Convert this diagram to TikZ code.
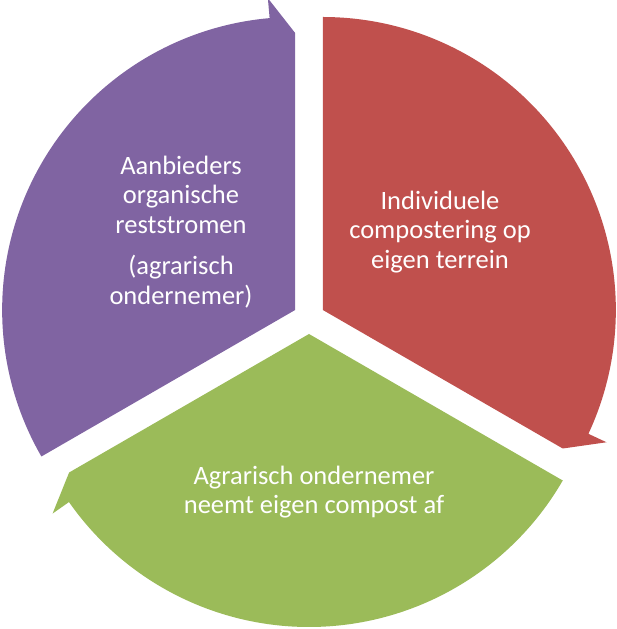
\documentclass[tikz,border=0pt]{standalone}
\usepackage{fontspec}
\setmainfont{Carlito}
\usetikzlibrary{calc}
\definecolor{segred}{HTML}{C0504D}
\definecolor{seggreen}{HTML}{9BBB59}
\definecolor{segpurple}{HTML}{8064A2}
\begin{document}
\begin{tikzpicture}[x=1pt,y=1pt]

\tikzstyle{segment}=[draw=none]
\tikzstyle{phase}=[text=white, align=center, inner sep=0pt, font=\fontsize{26.5}{29.5}\selectfont]

\useasboundingbox (0,0) rectangle (617,629);

\coordinate (mid) at (309,311);
\coordinate (Cp) at ($(mid)+(150:16)$);
\coordinate (Cr) at ($(mid)+(30:16)$);
\coordinate (Cg) at ($(mid)+(270:16)$);

% purple: 210 -> 90
\fill[segment, fill=segpurple] (Cp) -- ($(Cp)+(210:293)$) arc[start angle=210, end angle=95, radius=293]
    -- ($(Cp)+(95:313)$) -- ($(Cp)+(90:277)$) -- cycle;
% red: 90 -> -30
\fill[segment, fill=segred] (Cr) -- ($(Cr)+(90:293)$) arc[start angle=90, end angle=-25, radius=293]
    -- ($(Cr)+(-25:313)$) -- ($(Cr)+(-30:277)$) -- cycle;
% green: -30 -> -150
\fill[segment, fill=seggreen] (Cg) -- ($(Cg)+(-30:293)$) arc[start angle=-30, end angle=-145, radius=293]
    -- ($(Cg)+(-145:313)$) -- ($(Cg)+(-150:277)$) -- cycle;

\node (aanb) [phase] at (181,397) {Aanbieders\\organische\\reststromen\\[12pt](agrarisch\\ondernemer)};
\node (comp) [phase] at (440,397) {Individuele\\compostering op\\eigen terrein};
\node (afname) [phase] at (314,137) {Agrarisch ondernemer\\neemt eigen compost af};
\end{tikzpicture}
\end{document}
